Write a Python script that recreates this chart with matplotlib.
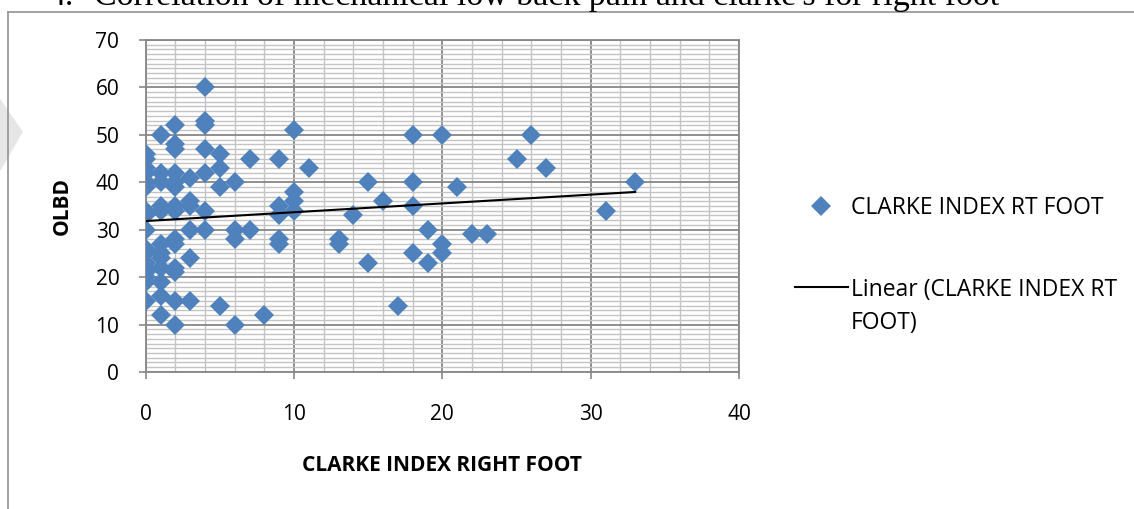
import numpy as np
import matplotlib.pyplot as plt
from matplotlib.ticker import MultipleLocator
from matplotlib.patches import Polygon

plt.rcParams['font.family'] = ['Open Sans', 'DejaVu Sans']

# clarke index (right foot) vs OLBD score, one entry per subject
clarke_rt = [0]*17 + [1]*12 + [2]*14 + [3]*6 + [4]*7 + [5]*4 + [6]*4 + [7]*2 + [8] + \
            [9]*5 + [10]*4 + [11] + [13]*2 + [14] + [15]*2 + [16] + [17] + [18]*4 + \
            [19]*2 + [20]*3 + [21, 22, 23, 25, 26, 27, 31, 33]
olbd = [46, 45, 43, 42, 40, 39, 34, 33, 30, 26, 25, 23, 22, 21, 20, 19, 15,
        50, 42, 40, 35, 34, 27, 25, 24, 22, 19, 16, 12,
        52, 48, 47, 42, 40, 39, 35, 34, 28, 27, 22, 21, 15, 10,
        41, 36, 35, 30, 24, 15,
        60, 53, 52, 47, 42, 34, 30,
        46, 43, 39, 14,
        40, 30, 28, 10,
        45, 30,
        12,
        45, 35, 33, 28, 27,
        51, 38, 36, 34,
        43,
        28, 27,
        33,
        40, 23,
        36,
        14,
        50, 40, 35, 25,
        30, 23,
        50, 27, 25,
        39, 29, 29, 45, 50, 43, 34, 40]

x = np.array(clarke_rt)
y = np.array(olbd)

fig = plt.figure(figsize=(11.34, 5.09), dpi=100)
ax = fig.add_axes([0.1285, 0.2692, 0.5232, 0.6522])

ax.plot(x, y, linestyle='none', marker='D', markersize=10, color='#4F81BD',
        markeredgewidth=0, label='CLARKE INDEX RT FOOT', zorder=3)

# least squares trend line over the data range
slope, icept = np.polyfit(x, y, 1)
xs = np.array([x.min(), x.max()])
ax.plot(xs, icept + slope * xs, color='black', lw=1.5,
        label='Linear (CLARKE INDEX RT', zorder=4)

ax.set_xlim(0, 40)
ax.set_ylim(0, 70)
ax.xaxis.set_major_locator(MultipleLocator(10))
ax.xaxis.set_minor_locator(MultipleLocator(2))
ax.yaxis.set_major_locator(MultipleLocator(10))
ax.yaxis.set_minor_locator(MultipleLocator(1))
ax.grid(which='minor', color='#C4C4C4', lw=1.0, zorder=0)
ax.grid(which='major', color='#878787', lw=1.3, zorder=1)
ax.set_axisbelow(True)
for s in ax.spines.values():
    s.set_color('#878787')
    s.set_linewidth(1.3)
ax.tick_params(which='major', length=5, width=1.2, color='#878787',
               labelsize=15, pad=14)
ax.tick_params(axis='x', pad=18)
ax.tick_params(which='minor', length=0)

ax.set_xlabel('CLARKE INDEX RIGHT FOOT', fontsize=15, fontweight='bold', labelpad=22)
ax.set_ylabel('OLBD', fontsize=15, fontweight='bold', labelpad=16)

leg = ax.legend(loc='upper left', bbox_to_anchor=(0.691, 0.637),
                bbox_transform=fig.transFigure, frameon=False, fontsize=16.5,
                handlelength=2.3, handletextpad=0.15, labelspacing=2.5,
                borderpad=0)

# wrapped tail of the trend line label, hung under its first line
fig.canvas.draw()
bb = leg.get_texts()[1].get_window_extent()
fig.text(bb.x0 / fig.bbox.width, (bb.y1 - 33) / fig.bbox.height, 'FOOT)',
         fontsize=16.5, va='top', ha='left')

# chart frame and heading text above it
fig.add_artist(plt.Line2D([8/1134, 8/1134], [0, 1 - 12/509], color='#9A9A9A',
                          lw=1.3, transform=fig.transFigure))
fig.add_artist(plt.Line2D([8/1134, 1], [1 - 12/509, 1 - 12/509], color='#9A9A9A',
                          lw=1.3, transform=fig.transFigure))
fig.add_artist(Polygon([[0, 1 - 100/509], [22/1134, 1 - 132/509], [0, 1 - 170/509]],
                       closed=True, color='#E6E6E6', transform=fig.transFigure, zorder=0))
fig.text(48/1134, 1 - 5/509, "4.", family='Liberation Serif', fontsize=24.5, va='baseline')
fig.text(94/1134, 1 - 5/509,
         "Correlation of mechanical low back pain and clarke's for right foot",
         family='Liberation Serif', fontsize=24.5, va='baseline')

fig.savefig('out.png', dpi=100)
